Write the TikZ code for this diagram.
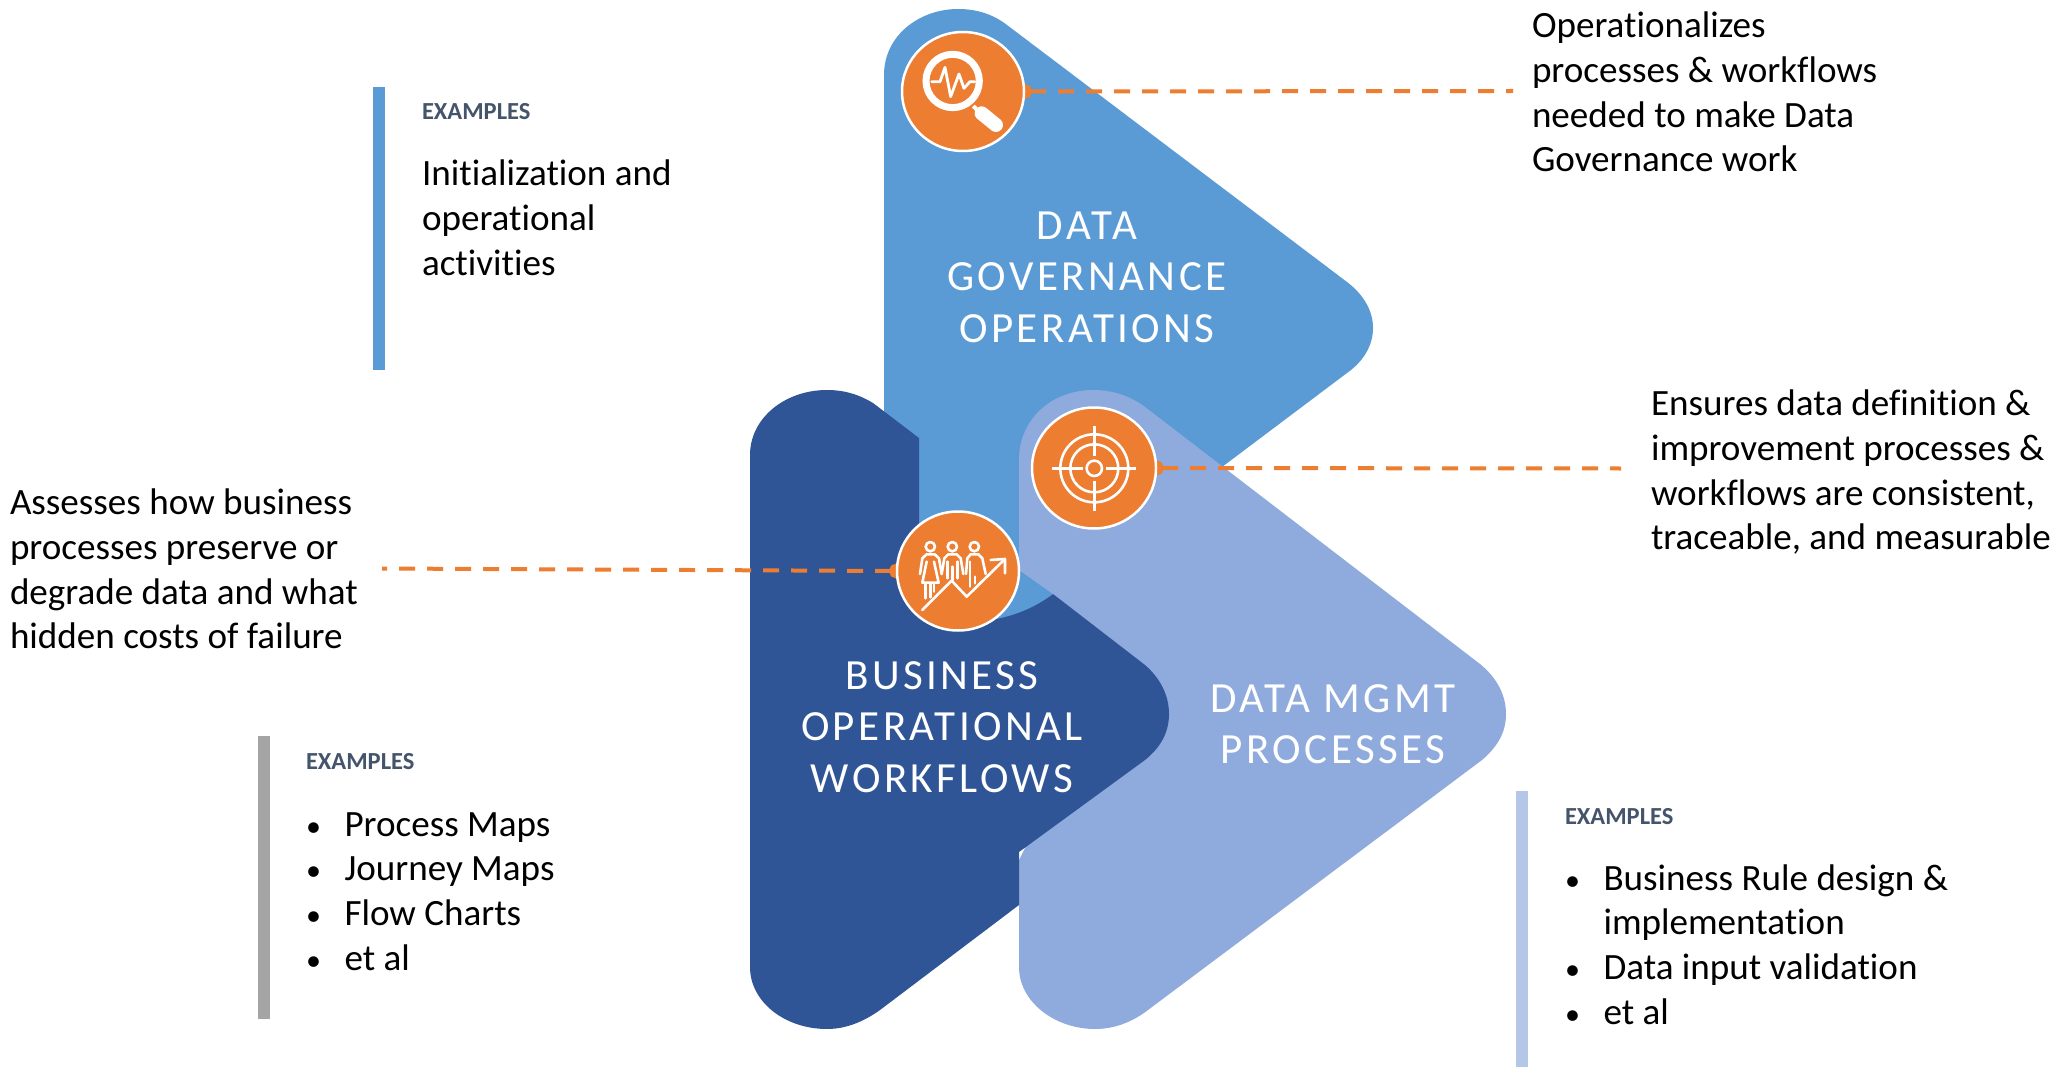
\documentclass[tikz,border=0pt]{standalone}
\usepackage{fontspec}
\setmainfont[Ligatures=CommonOff]{Carlito}
\newfontfamily\titlefont[LetterSpace=8,Ligatures=CommonOff]{Carlito}
\usetikzlibrary{arrows.meta,shapes.geometric}
\definecolor{cblue}{HTML}{5B9BD5}
\definecolor{cdark}{HTML}{2F5597}
\definecolor{cpale}{HTML}{8FAADC}
\definecolor{corange}{HTML}{ED7D31}
\definecolor{cgray}{HTML}{A5A5A5}
\definecolor{cbar}{HTML}{B4C7E7}
\definecolor{chead}{HTML}{44546A}
\pgfdeclarelayer{shapeslayer}
\pgfdeclarelayer{connlayer}
\pgfsetlayers{shapeslayer,connlayer,main}
\newcommand{\bodyrule}{\rule{0pt}{30pt}}
\newcommand{\titlerule}{\rule{0pt}{36pt}}
\newcommand{\bul}{\makebox[38.5pt][l]{\fontsize{30}{30}\selectfont•}}
\tikzset{
  bodytext/.style={inner sep=0pt,outer sep=0pt,anchor=north west,align=left,text=black,font=\fontsize{37.1}{44.8}\selectfont},
  headtext/.style={inner sep=0pt,outer sep=0pt,anchor=base west,text=chead,font=\fontsize{24.5}{28}\selectfont\bfseries},
  titletext/.style={inner sep=0pt,outer sep=0pt,anchor=north,align=center,text=white,font=\titlefont\fontsize{43}{51.3}\selectfont},
  iconbadge/.style={ellipse,draw=white,line width=2.5pt,fill=corange,inner sep=0pt,outer sep=0pt,minimum width=122pt,minimum height=119pt},
  connector/.style={draw=corange,line width=4pt,dash pattern=on 16pt off 12pt,{Circle[length=15pt,width=15pt]}-,shorten <=-7pt},
  glyph/.style={draw=white,line width=2.6pt,line cap=round,line join=round}
}
\begin{document}
\begin{tikzpicture}[x=1pt,y=-1pt]
\useasboundingbox (0,0) rectangle (2064,1067);
\begin{pgfonlayer}{shapeslayer}
\fill[white] (0,0) rectangle (2064,1067);
% blue
\fill[cblue] (884,75) .. controls (884,35) and (920,9) .. (958,9) .. controls (978,9) and (994,15) .. (1007,25)
  -- (1347,282) .. controls (1364,295) and (1373,311) .. (1373,328) .. controls (1373,345) and (1364,361) .. (1347,373)
  -- (1053,594) -- (1000,640) -- (884,640) -- cycle;
% pale
\fill[cpale] (1019,460) .. controls (1019,418) and (1053,390) .. (1093,390) .. controls (1113,390) and (1130,396) .. (1145,407)
  -- (1480,664) .. controls (1497,678) and (1506,695) .. (1506,714) .. controls (1506,733) and (1497,747) .. (1482,760)
  -- (1148,1010) .. controls (1135,1020) and (1117,1029) .. (1095,1029) .. controls (1055,1029) and (1019,1002) .. (1019,967)
  -- (1019,860) -- (1100,700) -- (1060,600) -- (1053,594) -- (1019,570) -- cycle;
% dark
\fill[cdark] (750,967) -- (750,455) .. controls (750,418) and (785,390) .. (827,390) .. controls (845,390) and (860,395) .. (873,403)
  -- (919,438) -- (919,570) .. controls (925,600) and (955,626) .. (990,620) .. controls (1012,617) and (1035,608) .. (1053,594)
  -- (1145,665) .. controls (1160,678) and (1169,695) .. (1169,714) .. controls (1169,733) and (1160,748) .. (1145,760)
  -- (1019,852) -- (1019,905) -- (880,1010) .. controls (866,1020) and (848,1029) .. (827,1029) .. controls (785,1029) and (750,1002) .. (750,967) -- cycle;
% bars
\fill[cblue] (373,87) rectangle (385,370);
\fill[cgray] (258,736) rectangle (270,1019);
\fill[cbar] (1516,791) rectangle (1528,1067);
\end{pgfonlayer}

% titles
\node[titletext] (t1) at (1087,203.5) {\titlerule DATA\\GOVERNANCE\\OPERATIONS};
\node[titletext] (t2) at (942,653.5) {\titlerule BUSINESS\\OPERATIONAL\\WORKFLOWS};
\node[titletext] (t3) at (1333,676) {\titlerule DATA MGMT\\PROCESSES};

% badges
\node[iconbadge] (c1) at (963,91.5) {};
\node[iconbadge] (c2) at (958,571) {};
\node[iconbadge,minimum width=124pt,minimum height=121pt] (c3) at (1094,468) {};

% connector ends
\coordinate (e1) at (1513,91);
\coordinate (e2) at (382,568.5);
\coordinate (e3) at (1621,468.5);
\begin{pgfonlayer}{connlayer}
\draw[connector] (c1.east) -- (e1);
\draw[connector] (c2.west) -- (e2);
\draw[connector] (c3.east) -- (e3);
\end{pgfonlayer}

% magnifier
\begin{scope}[shift={(860,0)},x=.3333pt,y=-.3333pt]
\draw[draw=white,line width=7pt] (278,243) circle[radius=80];
\draw[white,line width=4pt] (340,318) -- (365,345);
\draw[white,line width=14pt,line cap=round] (365,340) -- (408,375);
\draw[glyph,line width=2.8pt] (215,245) -- (240,245) -- (255,202) -- (272,290) -- (297,222) -- (312,265) -- (330,245) -- (345,245);
\end{scope}
% people
\begin{scope}[shift={(860,370)},x=.3333pt,y=-.3333pt]
\draw[glyph] (211,530) circle[radius=14];
\draw[glyph] (277,530) circle[radius=14];
\draw[glyph] (343,530) circle[radius=14];
\draw[glyph] (180,612) -- (187,565) -- (200,553) -- (224,553) -- (237,565) -- (245,612);
\draw[glyph] (200,575) -- (187,638) -- (236,638) -- (222,575);
\draw[glyph] (197,640) -- (197,685);
\draw[glyph] (212,640) -- (212,682);
\draw[glyph] (222,640) -- (222,665);
\draw[glyph] (245,612) -- (253,565) -- (265,553) -- (290,553) -- (302,565) -- (310,612);
\draw[glyph] (262,575) -- (262,625);
\draw[glyph] (277,590) -- (277,630);
\draw[glyph] (292,575) -- (292,625);
\draw[glyph] (318,612) -- (322,565) -- (332,553) -- (355,553) -- (367,565) -- (377,612);
\draw[glyph] (330,575) -- (330,650);
\draw[glyph] (345,620) -- (345,640);
\draw[glyph] (187,720) -- (275,632) -- (320,680) -- (435,567);
\draw[glyph] (392,570) -- (435,567) -- (435,610);
\end{scope}
% target
\begin{scope}[shift={(860,370)},x=.3333pt,y=-.3333pt]
\draw[glyph] (703,295) circle[radius=102];
\draw[glyph] (703,295) circle[radius=72];
\draw[glyph] (703,295) circle[radius=23];
\draw[glyph,line cap=butt] (577,295) -- (668,295);
\draw[glyph,line cap=butt] (738,295) -- (828,295);
\draw[glyph,line cap=butt] (703,168) -- (703,258);
\draw[glyph,line cap=butt] (703,332) -- (703,422);
\end{scope}

% text blocks
\node[headtext] (h1) at (422,119.5) {EXAMPLES};
\node[bodytext] (b1) at (422,156) {\bodyrule Initialization and\\operational\\activities};
\node[headtext] (h2) at (306,769.5) {EXAMPLES};
\node[bodytext] (b2) at (306,806) {\bodyrule\bul Process Maps\\\bul Journey Maps\\\bul Flow Charts\\\bul et al};
\node[headtext] (h3) at (1565,824) {EXAMPLES};
\node[bodytext] (b3) at (1565,860) {\bodyrule\bul Business Rule design \&\\\hspace*{38.5pt}implementation\\\bul Data input validation\\\bul et al};
\node[bodytext] (d1) at (1532,7.5) {\bodyrule Operationalizes\\processes \& workflows\\needed to make Data\\Governance work};
\node[bodytext] (d2) at (1651,385.5) {\bodyrule Ensures data definition \&\\improvement processes \&\\workflows are consistent,\\traceable, and measurable};
\node[bodytext] (d3) at (10,484.5) {\bodyrule Assesses how business\\processes preserve or\\degrade data and what\\hidden costs of failure};
\end{tikzpicture}
\end{document}
